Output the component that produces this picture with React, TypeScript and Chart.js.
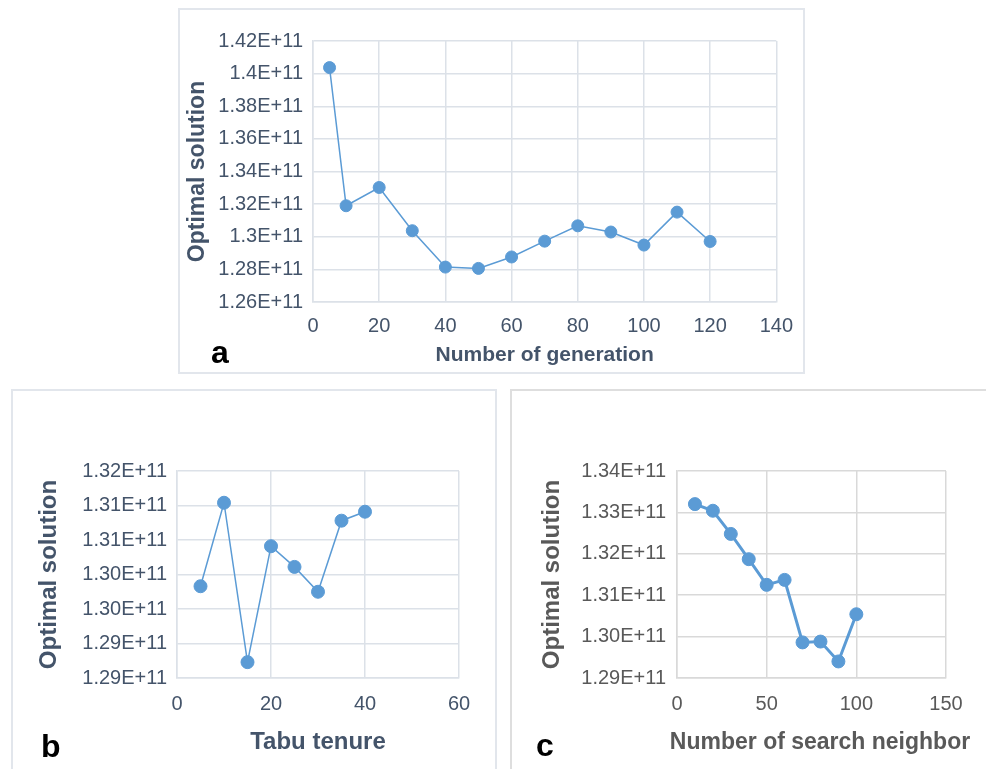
import React, { useEffect, useRef } from "react";
import { Chart, registerables } from "chart.js";

Chart.register(...registerables);

// ---------- data ----------
const generationX = [5, 10, 20, 30, 40, 50, 60, 70, 80, 90, 100, 110, 120];
const generationY = [
  1.4037e11, 1.319e11, 1.3302e11, 1.3037e11, 1.2814e11, 1.2806e11, 1.2876e11,
  1.2973e11, 1.3067e11, 1.3029e11, 1.2949e11, 1.3151e11, 1.2971e11,
];
const generationYTicks = [
  "1.26E+11", "1.28E+11", "1.3E+11", "1.32E+11", "1.34E+11",
  "1.36E+11", "1.38E+11", "1.4E+11", "1.42E+11",
];

const tenureX = [5, 10, 15, 20, 25, 30, 35, 40];
const tenureY = [
  1.3033e11, 1.3154e11, 1.2923e11, 1.3091e11, 1.3061e11, 1.3025e11, 1.3128e11, 1.3141e11,
];
const tenureYTicks = [
  "1.29E+11", "1.29E+11", "1.30E+11", "1.30E+11", "1.31E+11", "1.31E+11", "1.32E+11",
];

const neighborX = [10, 20, 30, 40, 50, 60, 70, 80, 90, 100];
const neighborY = [
  1.332e11, 1.3304e11, 1.3248e11, 1.3187e11, 1.3125e11, 1.3137e11, 1.2986e11,
  1.2988e11, 1.294e11, 1.3054e11,
];
const neighborYTicks = ["1.29E+11", "1.30E+11", "1.31E+11", "1.32E+11", "1.33E+11", "1.34E+11"];

const BLUE = "#5b9bd5";
const FONT = "'Liberation Sans', Arial, Helvetica, sans-serif";

type Spec = {
  left: number; top: number; width: number; height: number;
  padTop: number; padRight: number; yWidth: number; xHeight: number;
  xs: number[]; ys: number[]; yLabels: string[];
  xMin: number; xMax: number; xStep: number;
  yMin: number; yMax: number; yStep: number;
  xTitle: string; yTitle: string;
  xTitleSize: number; yTitleSize: number;
  xTitlePad: number; yTitlePad: number;
  tickPadX: number; tickPadY: number;
  textColor: string; gridColor: string; lineWidth: number; pointRadius: number;
  freeXTitle?: { x: number; y: number };
};

// draws an axis title at a fixed spot without width compression
const freeTitlePlugin = {
  id: "freeTitle",
  afterDraw(chart: any, _args: any, opts: any) {
    if (!opts || !opts.text) return;
    const ctx = chart.ctx;
    ctx.save();
    ctx.font = `bold ${opts.size}px ${FONT}`;
    ctx.fillStyle = opts.color;
    ctx.textAlign = "center";
    ctx.textBaseline = "middle";
    ctx.fillText(opts.text, opts.x, opts.y);
    ctx.restore();
  },
};

function ChartCanvas({ spec }: { spec: Spec }) {
  const ref = useRef<HTMLCanvasElement | null>(null);
  useEffect(() => {
    if (!ref.current) return;
    const s = spec;
    const pts = s.xs.map((x, i) => ({ x, y: s.ys[i] }));
    const free = s.freeXTitle;
    const chart = new Chart(ref.current, {
      type: "line",
      data: {
        datasets: [
          {
            data: pts,
            borderColor: BLUE,
            backgroundColor: BLUE,
            borderWidth: s.lineWidth,
            pointRadius: s.pointRadius,
            pointBackgroundColor: BLUE,
            pointBorderColor: BLUE,
            pointBorderWidth: 1,
            tension: 0,
          },
        ],
      },
      plugins: [freeTitlePlugin],
      options: {
        responsive: false,
        maintainAspectRatio: false,
        animation: false,
        layout: { padding: { left: 0, top: s.padTop, right: s.padRight, bottom: 0 } },
        plugins: {
          legend: { display: false },
          tooltip: { enabled: false },
          freeTitle: free
            ? { text: s.xTitle, x: free.x, y: free.y, size: s.xTitleSize, color: s.textColor }
            : { text: "" },
        },
        scales: {
          x: {
            type: "linear",
            min: s.xMin,
            max: s.xMax,
            ticks: {
              stepSize: s.xStep,
              padding: s.tickPadX,
              color: s.textColor,
              font: { family: FONT, size: 20 },
            },
            grid: { color: s.gridColor, lineWidth: 1.5, drawTicks: false },
            border: { color: s.gridColor, width: 1.5 },
            title: {
              display: !free,
              text: s.xTitle,
              color: s.textColor,
              font: { family: FONT, size: s.xTitleSize, weight: "bold" },
              padding: { top: 0, bottom: s.xTitlePad },
            },
            afterFit: (sc: any) => { sc.height = s.xHeight; },
          },
          y: {
            type: "linear",
            min: s.yMin,
            max: s.yMax,
            ticks: {
              stepSize: s.yStep,
              padding: s.tickPadY,
              color: s.textColor,
              font: { family: FONT, size: 20 },
              callback: (_v: any, i: number) => s.yLabels[i],
            },
            grid: { color: s.gridColor, lineWidth: 1.5, drawTicks: false },
            border: { color: s.gridColor, width: 1.5 },
            title: {
              display: true,
              text: s.yTitle,
              color: s.textColor,
              font: { family: FONT, size: s.yTitleSize, weight: "bold" },
              padding: { top: s.yTitlePad, bottom: 0 },
            },
            afterFit: (sc: any) => { sc.width = s.yWidth; },
          },
        },
      },
    } as any);
    return () => chart.destroy();
  }, [spec]);
  return (
    <canvas
      ref={ref}
      width={spec.width}
      height={spec.height}
      style={{ position: "absolute", left: spec.left, top: spec.top, width: spec.width, height: spec.height }}
    />
  );
}

const specA: Spec = {
  left: 179, top: 9, width: 626, height: 364,
  padTop: 32, padRight: 25, yWidth: 134, xHeight: 71,
  xs: generationX, ys: generationY, yLabels: generationYTicks,
  xMin: 0, xMax: 140, xStep: 20,
  yMin: 1.26e11, yMax: 1.42e11, yStep: 2e9,
  xTitle: "Number of generation", yTitle: "Optimal solution",
  xTitleSize: 21, yTitleSize: 23, xTitlePad: 5, yTitlePad: 5,
  tickPadX: 12, tickPadY: 10,
  textColor: "#44546a", gridColor: "#dce1e8", lineWidth: 1.5, pointRadius: 6,
};

const specB: Spec = {
  left: 12, top: 390, width: 484, height: 379,
  padTop: 81, padRight: 37, yWidth: 165, xHeight: 91,
  xs: tenureX, ys: tenureY, yLabels: tenureYTicks,
  xMin: 0, xMax: 60, xStep: 20,
  yMin: 1.29e11, yMax: 1.32e11, yStep: 5e8,
  xTitle: "Tabu tenure", yTitle: "Optimal solution",
  xTitleSize: 24, yTitleSize: 24, xTitlePad: 12, yTitlePad: 23,
  tickPadX: 14, tickPadY: 10,
  textColor: "#44546a", gridColor: "#dce1e8", lineWidth: 1.5, pointRadius: 6.5,
};

const specC: Spec = {
  left: 511, top: 390, width: 475, height: 379,
  padTop: 81, padRight: 40, yWidth: 166, xHeight: 91,
  xs: neighborX, ys: neighborY, yLabels: neighborYTicks,
  xMin: 0, xMax: 150, xStep: 50,
  yMin: 1.29e11, yMax: 1.34e11, yStep: 1e9,
  xTitle: "Number of search neighbor", yTitle: "Optimal solution",
  xTitleSize: 23, yTitleSize: 24, xTitlePad: 12, yTitlePad: 27,
  tickPadX: 14, tickPadY: 11,
  textColor: "#595959", gridColor: "#d9d9d9", lineWidth: 3, pointRadius: 6.5,
  freeXTitle: { x: 309, y: 353 },
};

const letterStyle = (left: number, top: number): React.CSSProperties => ({
  position: "absolute",
  left,
  top,
  fontFamily: FONT,
  fontWeight: "bold",
  fontSize: 32,
  lineHeight: 1,
  color: "#000",
});

export default function App() {
  return (
    <div style={{ position: "absolute", left: 0, top: 0, width: 986, height: 769, overflow: "hidden", background: "#fff" }}>
      <div style={{ position: "absolute", left: 178, top: 8, width: 627, height: 366, border: "2px solid #e2e6ec", boxSizing: "border-box" }} />
      <div style={{ position: "absolute", left: 11, top: 389, width: 486, height: 400, border: "2px solid #e2e6ec", boxSizing: "border-box" }} />
      <div style={{ position: "absolute", left: 510, top: 389, width: 500, height: 400, border: "2px solid #dedede", boxSizing: "border-box" }} />
      <ChartCanvas spec={specA} />
      <ChartCanvas spec={specB} />
      <ChartCanvas spec={specC} />
      <div style={letterStyle(211, 336)}>a</div>
      <div style={letterStyle(41, 730)}>b</div>
      <div style={letterStyle(536, 729)}>c</div>
    </div>
  );
}
